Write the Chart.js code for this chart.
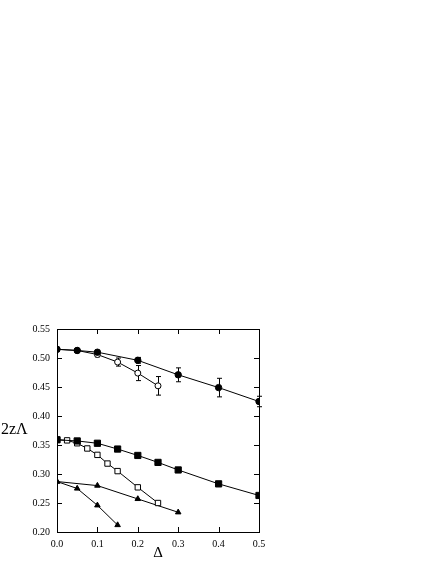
<!DOCTYPE html>
<html>
<head>
<meta charset="utf-8">
<script src="https://cdn.jsdelivr.net/npm/chart.js@4/dist/chart.umd.min.js"></script>
<style>
  html, body { margin: 0; padding: 0; background: #fff; }
</style>
</head>
<body>
<canvas id="chart" width="436" height="564"></canvas>
<script>
// filled circles (with error bars)
const circFilledX = [0, 0.05, 0.1, 0.2, 0.3, 0.4, 0.5];
const circFilledY = [0.515, 0.513, 0.510, 0.496, 0.471, 0.449, 0.425];
const circFilledErr = [0, 0, 0.002, 0.005, 0.012, 0.016, 0.009];

// open circles (with error bars)
const circOpenX = [0, 0.05, 0.1, 0.15, 0.2, 0.25];
const circOpenY = [0.515, 0.513, 0.506, 0.493, 0.474, 0.452];
const circOpenErr = [0, 0, 0.004, 0.007, 0.013, 0.016];

// filled squares
const sqFilledX = [0, 0.05, 0.1, 0.15, 0.2, 0.25, 0.3, 0.4, 0.5];
const sqFilledY = [0.359, 0.357, 0.353, 0.343, 0.332, 0.320, 0.307, 0.283, 0.263];

// open squares
const sqOpenX = [0, 0.025, 0.05, 0.075, 0.1, 0.125, 0.15, 0.2, 0.25];
const sqOpenY = [0.359, 0.358, 0.353, 0.344, 0.333, 0.318, 0.305, 0.277, 0.250];

// triangles
const triAX = [0, 0.1, 0.2, 0.3];
const triAY = [0.287, 0.280, 0.257, 0.234];
const triBX = [0, 0.05, 0.1, 0.15];
const triBY = [0.287, 0.275, 0.246, 0.212];

const xTicks = [0, 0.1, 0.2, 0.3, 0.4, 0.5];
const yTicks = [0.20, 0.25, 0.30, 0.35, 0.40, 0.45, 0.50, 0.55];

const pts = (xs, ys) => xs.map((x, i) => ({ x, y: ys[i] }));

const serif = "'Liberation Serif', 'DejaVu Serif', serif";

const series = (data, style, fill, radius, err) => ({
  data,
  showLine: true,
  borderColor: "#000",
  borderWidth: 1,
  pointStyle: style,
  pointRadius: radius,
  pointBorderWidth: 1,
  pointBorderColor: "#000",
  pointBackgroundColor: fill ? "#000" : "#fff",
  errors: err,
});

// error bars, drawn under the markers
const errorBars = {
  id: "errorBars",
  beforeDatasetsDraw(chart) {
    const { ctx, scales } = chart;
    ctx.save();
    ctx.strokeStyle = "#000";
    ctx.lineWidth = 1;
    chart.data.datasets.forEach((ds) => {
      if (!ds.errors) return;
      ds.data.forEach((p, i) => {
        const e = ds.errors[i];
        if (!e) return;
        const px = Math.round(scales.x.getPixelForValue(p.x)) + 0.5;
        const top = scales.y.getPixelForValue(p.y + e);
        const bot = scales.y.getPixelForValue(p.y - e);
        ctx.beginPath();
        ctx.moveTo(px, top);
        ctx.lineTo(px, bot);
        ctx.moveTo(px - 2.5, top);
        ctx.lineTo(px + 2.5, top);
        ctx.moveTo(px - 2.5, bot);
        ctx.lineTo(px + 2.5, bot);
        ctx.stroke();
      });
    });
    ctx.restore();
  },
};

// frame with inward ticks on all four sides, plus axis titles
const frame = {
  id: "frame",
  afterDraw(chart) {
    const { ctx, chartArea: a, scales } = chart;
    ctx.save();
    ctx.strokeStyle = "#000";
    ctx.lineWidth = 1;
    ctx.strokeRect(Math.round(a.left) + 0.5, Math.round(a.top) + 0.5,
      Math.round(a.right - a.left), Math.round(a.bottom - a.top));
    ctx.beginPath();
    xTicks.forEach((v) => {
      const px = Math.round(scales.x.getPixelForValue(v)) + 0.5;
      ctx.moveTo(px, a.bottom);
      ctx.lineTo(px, a.bottom - 5);
      ctx.moveTo(px, a.top);
      ctx.lineTo(px, a.top + 5);
    });
    yTicks.forEach((v) => {
      const py = Math.round(scales.y.getPixelForValue(v)) + 0.5;
      ctx.moveTo(a.left, py);
      ctx.lineTo(a.left + 5, py);
      ctx.moveTo(a.right, py);
      ctx.lineTo(a.right - 5, py);
    });
    ctx.stroke();

    ctx.fillStyle = "#000";
    ctx.textBaseline = "middle";
    ctx.textAlign = "left";
    ctx.font = "16px " + serif;
    ctx.fillText("2z\u039B", 1, 430);
    ctx.textAlign = "center";
    ctx.font = "15px " + serif;
    ctx.fillText("\u0394", (a.left + a.right) / 2, 553);
    ctx.restore();
  },
};

// first dataset is drawn on top, so filled markers come first
new Chart(document.getElementById("chart"), {
  type: "scatter",
  data: {
    datasets: [
      series(pts(circFilledX, circFilledY), "circle", true, 3.2, circFilledErr),
      series(pts(circOpenX, circOpenY), "circle", false, 3, circOpenErr),
      series(pts(sqFilledX, sqFilledY), "rect", true, 4.4),
      series(pts(sqOpenX, sqOpenY), "rect", false, 3.8),
      series(pts(triAX, triAY), "triangle", true, 3.2),
      series(pts(triBX, triBY), "triangle", true, 3.2),
    ],
  },
  options: {
    responsive: false,
    animation: false,
    devicePixelRatio: 1,
    layout: { padding: { top: 329, right: 177, left: 0, bottom: 0 } },
    plugins: {
      legend: { display: false },
      tooltip: { enabled: false },
    },
    elements: { line: { tension: 0 } },
    scales: {
      x: {
        type: "linear",
        min: 0,
        max: 0.5,
        afterBuildTicks: (s) => { s.ticks = xTicks.map((v) => ({ value: v })); },
        afterFit: (s) => { s.height = 32; },
        grid: { display: false, drawTicks: false },
        border: { display: false },
        ticks: {
          padding: 6,
          color: "#000",
          font: { family: serif, size: 10 },
          callback: (v) => Number(v).toFixed(1),
        },
      },
      y: {
        min: 0.2,
        max: 0.55,
        afterBuildTicks: (s) => { s.ticks = yTicks.map((v) => ({ value: v })); },
        afterFit: (s) => { s.width = 57; },
        grid: { display: false, drawTicks: false },
        border: { display: false },
        ticks: {
          padding: 7,
          color: "#000",
          font: { family: serif, size: 10 },
          callback: (v) => Number(v).toFixed(2),
        },
      },
    },
  },
  plugins: [errorBars, frame],
});
</script>
</body>
</html>
